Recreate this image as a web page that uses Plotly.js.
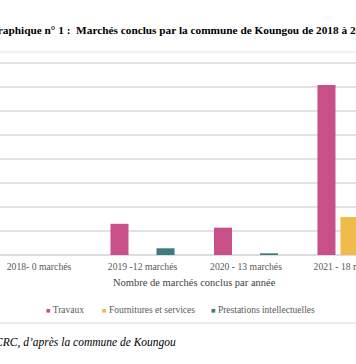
<!DOCTYPE html>
<html><head><meta charset="utf-8">
<script src="https://cdn.plot.ly/plotly-3.0.1.min.js"></script>
<style>html,body{margin:0;padding:0;background:#fff}#c{width:356px;height:364px}</style>
</head><body><div id="c"></div>
<script>
const categories = ["2018- 0 marchés", "2019 -12 marchés", "2020 - 13 marchés", "2021 - 18 marchés"];
const seriesNames = ["Travaux", "Fournitures et services", "Prestations intellectuelles"];
const travaux = [0, 1.3, 1.14, 7.08];
const fournitures = [0, 0, 0, 1.58];
const prestations = [0, 0.28, 0.07, 0];
const colors = ["#c94f89", "#efbb4a", "#3f7b7c"];
const values = [travaux, fournitures, prestations];

const serif = "Liberation Serif, Times New Roman, serif";
const traces = values.map((v, i) => ({
  type: "bar", x: categories, y: v, name: seriesNames[i],
  marker: {color: colors[i]}, showlegend: false, hoverinfo: "skip"
}));

const legendX = [0.123, 0.28, 0.587];
const annotations = [
  {text: "<b>Graphique n° 1 :  Marchés conclus par la commune de Koungou de 2018 à 2022</b>",
   xref: "paper", yref: "paper", x: -13.5/356, y: 1 + (60-30)/195, xanchor: "left", yanchor: "middle",
   showarrow: false, font: {family: serif, size: 11.3, color: "#000"}},
  {text: "Nombre de marchés conclus par année", xref: "paper", yref: "paper",
   x: 195/356, y: -(282-255)/195, xanchor: "center", yanchor: "middle", showarrow: false,
   font: {family: serif, size: 10.5, color: "#404040"}},
  {text: "<i>Source : CRC, d’après la commune de Koungou</i>", xref: "paper", yref: "paper",
   x: -48/356, y: -(342-255)/195, xanchor: "left", yanchor: "middle", showarrow: false,
   font: {family: serif, size: 11.5, color: "#000"}}
];
seriesNames.forEach((n, i) => annotations.push({
  text: '<span style="color:' + colors[i] + ';font-size:7.5px">■</span> ' + n,
  xref: "paper", yref: "paper", x: legendX[i], y: -(310-255)/195, xanchor: "left", yanchor: "middle",
  showarrow: false, font: {family: serif, size: 9.5, color: "#595959"}
}));

const layout = {
  width: 356, height: 364,
  margin: {l: 0, r: 0, t: 60, b: 109},
  paper_bgcolor: "#fff", plot_bgcolor: "#fff",
  barmode: "group", bargap: 0.333, bargroupgap: 0.217,
  xaxis: {type: "category", range: [-0.377, 3.063], showgrid: false, zeroline: false,
          showline: false, ticks: "", automargin: false, ticklabelstandoff: 4,
          tickfont: {family: serif, size: 9.7, color: "#595959"}},
  yaxis: {range: [0, 8.125], dtick: 1, showticklabels: false, showgrid: true, gridcolor: "#e2e2e2",
          gridwidth: 2, zeroline: true, zerolinecolor: "#dcdcdc", zerolinewidth: 2, automargin: false},
  annotations: annotations,
  shapes: [
    {type: "line", xref: "paper", yref: "paper", x0: 0, x1: 1, y0: 1 + (60-52)/195, y1: 1 + (60-52)/195,
     line: {color: "#ececec", width: 1.5}},
    {type: "line", xref: "paper", yref: "paper", x0: 0, x1: 1, y0: -(323-255)/195, y1: -(323-255)/195,
     line: {color: "#e6e6e6", width: 1.5}}
  ]
};
Plotly.newPlot("c", traces, layout, {staticPlot: true, displayModeBar: false});
</script></body></html>
